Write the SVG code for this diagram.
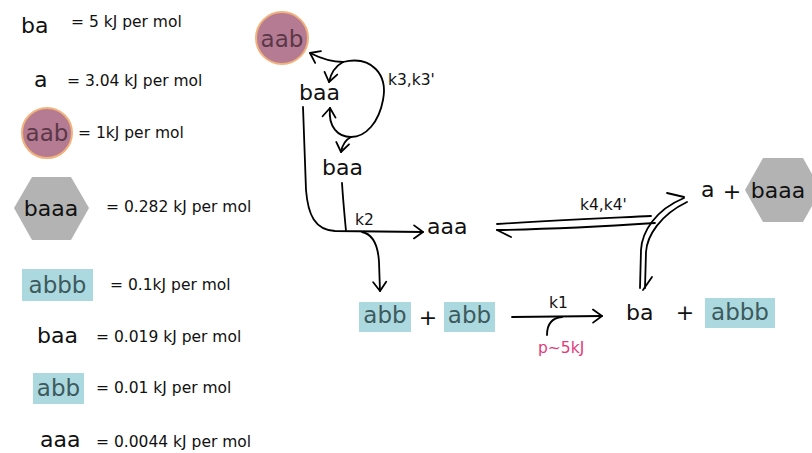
<svg xmlns="http://www.w3.org/2000/svg" width="812" height="453" viewBox="0 0 812 453">
<style>
text{font-family:"DejaVu Sans","Liberation Sans",sans-serif;fill:#111}
.big{font-size:22px}
.lab{font-size:15.5px}
.circ{fill:#b57b93;stroke:#f2b27c;stroke-width:2}
.ctx{fill:#5a3848;font-size:23px;text-anchor:middle}
.hex{fill:#b3b3b3}
.hx{font-size:22px;text-anchor:middle}
.box{fill:#acd9e0}
.btx{fill:#3d5a5c;font-size:23px;text-anchor:middle}
.ln{fill:none;stroke:#000;stroke-width:1.8;stroke-linecap:round;stroke-linejoin:round}
.pink{fill:#e23a7a;font-size:15.5px}
</style>
<defs>
<marker id="ah" viewBox="-11 -8 13 16" refX="0" refY="0" markerWidth="13" markerHeight="16" markerUnits="userSpaceOnUse" orient="auto">
<path d="M-9,-6.5 L0,0 L-9,6.5" fill="none" stroke="#000" stroke-width="1.8" stroke-linecap="round" stroke-linejoin="round"/>
</marker>
</defs>
<rect width="812" height="453" fill="#fff"/>

<g id="legend">
<g id="leg-ba"><text class="big" x="21" y="33">ba</text><text class="lab" x="71" y="27">= 5 kJ per mol</text></g>
<g id="leg-a"><text class="big" x="34" y="87">a</text><text class="lab" x="67" y="86">= 3.04 kJ per mol</text></g>
<g id="leg-aab"><circle class="circ" cx="47" cy="133" r="25"/><text class="ctx" x="47" y="141">aab</text><text class="lab" x="78" y="138">= 1kJ per mol</text></g>
<g id="leg-baaa"><polygon class="hex" points="14,208 32,177 71,177 89,208 71,240 32,240"/><text class="hx" x="51" y="216">baaa</text><text class="lab" x="106" y="212">= 0.282 kJ per mol</text></g>
<g id="leg-abbb"><rect class="box" x="22" y="269" width="71" height="32"/><text class="btx" x="57.5" y="293">abbb</text><text class="lab" x="110" y="290">= 0.1kJ per mol</text></g>
<g id="leg-baa"><text class="big" x="37" y="343">baa</text><text class="lab" x="96" y="342">= 0.019 kJ per mol</text></g>
<g id="leg-abb"><rect class="box" x="33" y="373" width="51" height="31"/><text class="btx" x="58.5" y="396">abb</text><text class="lab" x="96" y="393">= 0.01 kJ per mol</text></g>
<g id="leg-aaa"><text class="big" x="40" y="447">aaa</text><text class="lab" x="96" y="447">= 0.0044 kJ per mol</text></g>
</g>

<g id="n-aab"><circle class="circ" cx="282" cy="38" r="26"/><text class="ctx" x="282" y="47">aab</text></g>
<g id="n-baa1"><text class="big" x="299" y="100">baa</text></g>
<g id="n-baa2"><text class="big" x="322" y="175">baa</text></g>
<g id="n-aaa"><text class="big" x="427" y="234">aaa</text></g>
<g id="n-abb-abb">
<rect class="box" x="359" y="302" width="52" height="30"/><text class="btx" x="385" y="323">abb</text>
<text class="big" x="428" y="325" text-anchor="middle">+</text>
<rect class="box" x="444" y="302" width="51" height="30"/><text class="btx" x="469.5" y="323">abb</text>
</g>
<g id="n-ba-abbb">
<text class="big" x="626" y="320">ba</text>
<text class="big" x="685" y="320" text-anchor="middle">+</text>
<rect class="box" x="705" y="298" width="70" height="30"/><text class="btx" x="740" y="320">abbb</text>
</g>
<g id="n-a-baaa">
<text class="big" x="701" y="197">a</text>
<text class="big" x="732" y="199" text-anchor="middle">+</text>
<polygon class="hex" points="745,190 763,158 803,158 821,190 803,222 763,222"/>
<text class="hx" x="778" y="198">baaa</text>
</g>

<g id="connectors">
<path class="ln" d="M343,62 Q328,62 310,53" marker-end="url(#ah)"/>
<path class="ln" d="M343,62 Q332,68 329,82" marker-end="url(#ah)"/>
<path class="ln" d="M343,62 C372,55 388,75 383,100 C379,122 366,137 351,137 C338,137 328,127 330,108" marker-end="url(#ah)"/>
<path class="ln" d="M351,137 Q343,141 341,152" marker-end="url(#ah)"/>
<path class="ln" d="M303,107 L306,190 C308,215 315,230 335,231 L423,232" marker-end="url(#ah)"/>
<path class="ln" d="M342,183 C343,200 345,220 346,231"/>
<path class="ln" d="M362,232 C372,234 378,245 379,262 L380,291" marker-end="url(#ah)"/>
<path class="ln" d="M512,317 L602,316" marker-end="url(#ah)"/>
<path class="ln" d="M547,335 C547,325 551,318 562,317"/>
<path class="ln" d="M497,224 C560,220 610,218 651,216"/>
<path class="ln" d="M497,230 C560,229 610,226 655,223"/>
<path class="ln" d="M497,230 L511,237"/>
<path class="ln" d="M640,288 L641,250 C642,232 655,210 684,198"/>
<path class="ln" d="M645,288 L646,252 C647,236 660,215 687,202"/>
<path class="ln" d="M667,193 L684,197"/>
<path class="ln" d="M643,290 L652,277"/>
</g>

<g id="labels">
<text class="lab" x="388" y="85">k3,k3'</text>
<text class="lab" x="355" y="225">k2</text>
<text class="lab" x="580" y="210">k4,k4'</text>
<text class="lab" x="549" y="308">k1</text>
<text class="pink" x="538" y="353">p~5kJ</text>
</g>
</svg>
